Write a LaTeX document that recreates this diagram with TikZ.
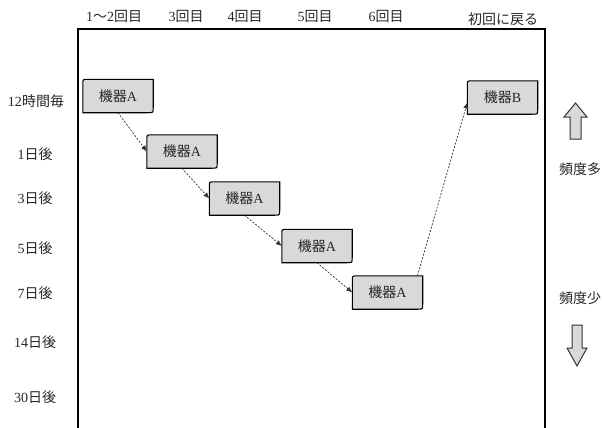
\documentclass[tikz,border=0pt]{standalone}
\usepackage{fontspec}
\setmainfont{Liberation Serif}
\newfontfamily\jp{Noto Sans CJK JP}
\usetikzlibrary{arrows.meta,calc,backgrounds}
\definecolor{boxgray}{RGB}{217,217,217}
\tikzset{
  lbl/.style={font=\fontsize{14}{16}\selectfont, inner sep=0pt, text=black!85},
  devnode/.style={minimum width=70pt, minimum height=33pt, inner sep=0pt, font=\fontsize{14}{16}\selectfont, text=black!85},
  boxline/.style={draw=black, line width=1.1pt, fill=boxgray},
  link/.style={draw=black!80, line width=0.7pt, dash pattern=on 2pt off 1.5pt, -{Latex[length=6pt,width=5pt]}},
  blockarrow/.style={draw=black!80, line width=1pt, fill=boxgray, line join=miter},
  frameline/.style={draw=black, line width=1.5pt},
}
\newcommand\devbox[4]{%
  \node[devnode] (#1) at (#2,#3) {#4};
  \begin{scope}[on background layer]
    \filldraw[boxline] ([yshift=-5pt]#1.north west) -- (#1.south west)
      -- ([xshift=-5pt]#1.south east) .. controls (#1.south east) .. ([yshift=5pt]#1.south east)
      -- (#1.north east) -- ([xshift=5pt]#1.north west) .. controls (#1.north west) .. cycle;
  \end{scope}
}
\begin{document}
\begin{tikzpicture}[x=1pt,y=-1pt]
\useasboundingbox (0,0) rectangle (602,428);
% frame
\draw[frameline] (78,432) -- (78,29) -- (545,29) -- (545,432);
% top labels
\node[lbl] (t1) at (114,16) {1{\jp ～}2{\jp 回目}};
\node[lbl] (t2) at (186,16) {3{\jp 回目}};
\node[lbl] (t3) at (245,16) {4{\jp 回目}};
\node[lbl] (t4) at (315,16) {5{\jp 回目}};
\node[lbl] (t5) at (386,16) {6{\jp 回目}};
\node[lbl] (t6) at (503,19) {{\jp 初回に戻る}};
% left labels
\node[lbl] (l1) at (36,101) {12{\jp 時間毎}};
\node[lbl] (l2) at (35,154) {1{\jp 日後}};
\node[lbl] (l3) at (35,198) {3{\jp 日後}};
\node[lbl] (l4) at (35,248) {5{\jp 日後}};
\node[lbl] (l5) at (35,293) {7{\jp 日後}};
\node[lbl] (l6) at (35,342) {14{\jp 日後}};
\node[lbl] (l7) at (35,397) {30{\jp 日後}};
% right labels
\node[lbl] (r1) at (580,169) {{\jp 頻度多}};
\node[lbl] (r2) at (580,298) {{\jp 頻度少}};
% block arrows
\draw[blockarrow] (570,139) -- (570,117) -- (564,117) -- (575.5,103) -- (587,117) -- (581,117) -- (581,139) -- cycle;
\draw[blockarrow] (572,325) -- (572,348) -- (567,348) -- (577,366) -- (587,348) -- (582,348) -- (582,325) -- cycle;
% device boxes
\devbox{b1}{118}{96}{{\jp 機器}A}
\devbox{b2}{182}{151.5}{{\jp 機器}A}
\devbox{b3}{244.5}{198.5}{{\jp 機器}A}
\devbox{b4}{317}{246}{{\jp 機器}A}
\devbox{b5}{387.5}{292.5}{{\jp 機器}A}
\devbox{bB}{502.5}{97.5}{{\jp 機器}B}
% links
\draw[link] (b1.south) -- (b2.west);
\draw[link] (b2.south) -- (b3.west);
\draw[link] (b3.south) -- (b4.west);
\draw[link] (b4.south) -- (b5.west);
\draw[link] ([xshift=30pt]b5.north) -- ([yshift=-5pt]bB.west);
\end{tikzpicture}
\end{document}
